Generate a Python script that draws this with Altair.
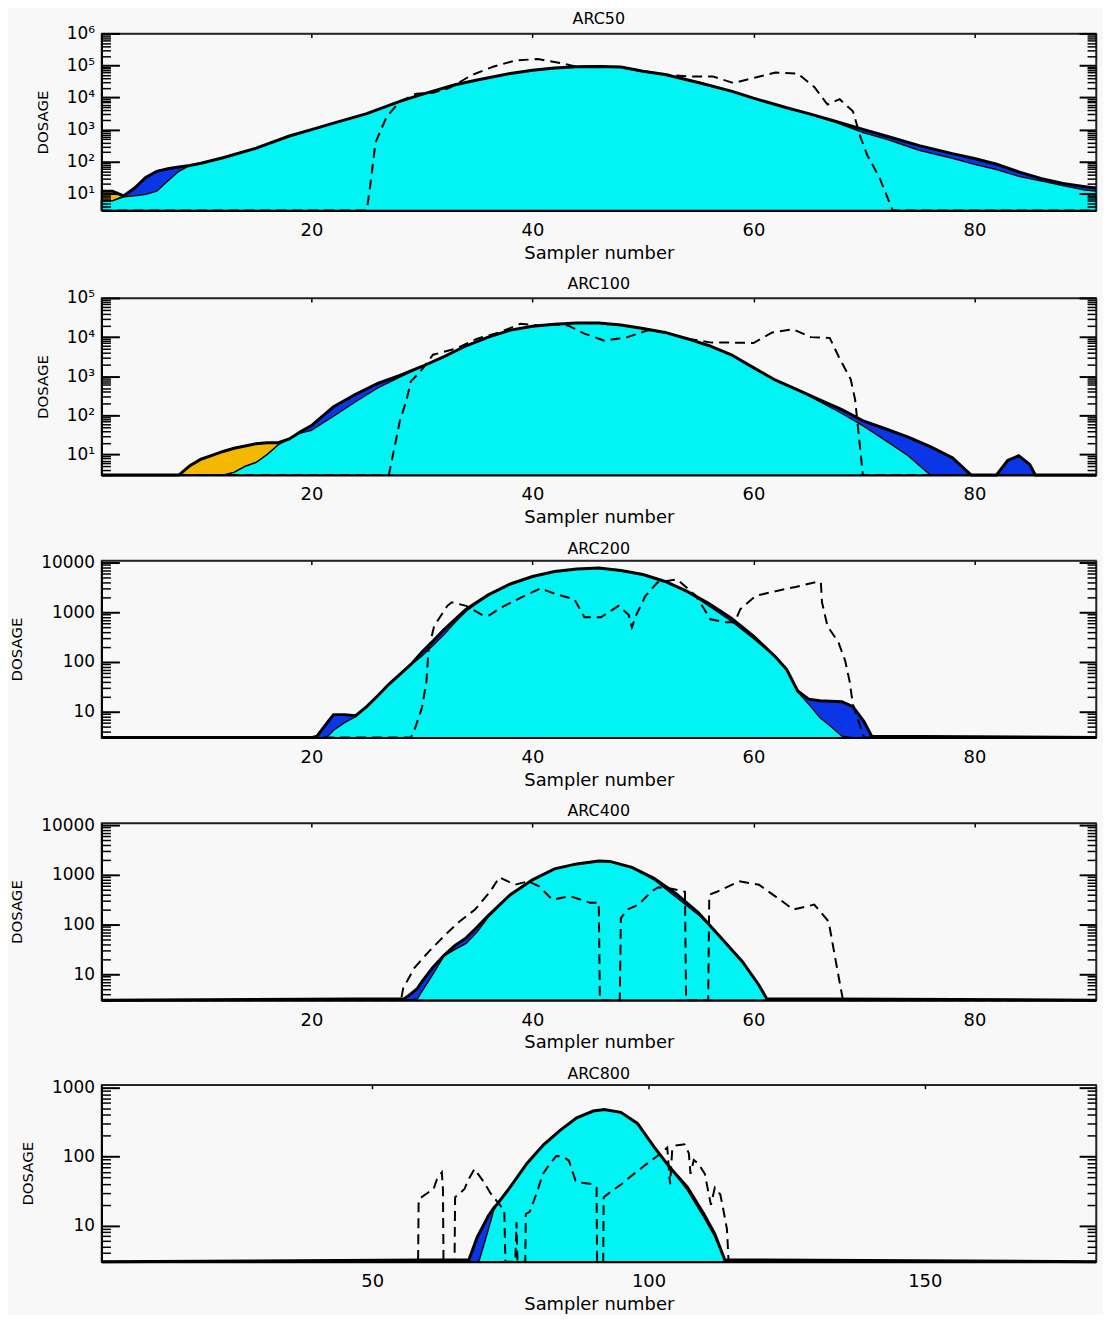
import altair as alt
import pandas as pd

FONT = "DejaVu Sans"
FLOOR = 3.0
BG = "#f8f8f8"
CYAN = "#00f4f4"
BLUE = "#0b36e8"
ORANGE = "#f5b800"

TITLES = ["ARC50", "ARC100", "ARC200", "ARC400", "ARC800"]
Y_MAX = [1.0e6, 1.0e5, 1.1e4, 1.1e4, 1.1e3]
X_MAX = [91, 91, 91, 91, 181]
Y_MAJOR = [
    [10, 100, 1000, 10000, 100000, 1000000],
    [10, 100, 1000, 10000, 100000],
    [10, 100, 1000, 10000],
    [10, 100, 1000, 10000],
    [10, 100, 1000],
]
X_TICKS = [[20, 40, 60, 80]] * 4 + [[50, 100, 150]]
SUPERSCRIPT = [True, True, False, False, False]

# ---------------- ARC50 ----------------
N1 = [1, 2, 3, 4, 5, 6, 7, 8, 9, 10, 12, 15, 18, 20, 22, 25, 28, 30, 33, 35, 38, 40, 42, 44, 46,
      48, 50, 52, 55, 58, 60, 63, 65, 67, 70, 72, 75, 78, 80, 82, 84, 86, 88, 90, 91]
ORANGE1 = [12, 12, 8.5] + [0] * 42
BLUE1 = [6, 6, 8.5, 15, 32, 50, 60, 68, 76, 89, 132, 263, 631, 1000, 1585, 3162, 7586, 12590, 25120,
         35480, 56230, 70790, 83180, 91200, 93330, 89130, 66070, 52480, 29510, 15850, 9550, 4786,
         3162, 1995, 1000, 631, 316, 178, 126, 83, 48, 30, 21, 16.6, 15]
CYAN1 = [6, 6, 8, 8.5, 9.5, 12, 25, 50, 76, 89, 132, 263, 631, 1000, 1585, 3162, 7586, 12590, 25120,
         35480, 56230, 70790, 83180, 91200, 93330, 89130, 66070, 52480, 29510, 15850, 9550, 4786,
         3162, 1900, 794, 501, 224, 126, 83, 56, 35, 25, 18, 13, 12]
OBS1_N = [1, 25, 25.3, 25.8, 26.8, 28, 29.5, 31, 32.5, 34.5, 36.5, 38.5, 40.5, 42.5, 44, 46, 48, 50,
          52, 54, 56.3, 58.2, 60.1, 62, 64, 65.5, 66.7, 67.8, 69, 69.7, 70.3, 71.4, 72.6, 91]
OBS1 = [0, 0, 16, 400, 2512, 7586, 13180, 14130, 19950, 50120, 93330, 144500, 158500, 120200, 91200,
        93330, 89130, 66070, 52480, 45710, 45710, 28180, 41690, 60260, 56230, 21380, 6026, 8913,
        3715, 562, 158, 32, 0, 0]

# ---------------- ARC100 ----------------
N2 = [1, 8, 9, 10, 11, 12, 13, 14, 15, 16, 17, 18, 19, 20, 21, 22, 24, 26, 28, 30, 32, 34, 36, 38,
      40, 42, 44, 46, 48, 50, 52, 54, 56, 58, 60, 62, 64, 66, 68, 70, 72, 74, 76, 78, 79.7, 82, 83,
      84, 85, 85.5, 91]
ORANGE2 = [0, 0, 5.2, 7.6, 9.5, 12, 14.5, 16.5, 19, 20, 20, 15] + [0] * 39
BLUE2 = [0, 0, 0, 0, 0, 0, 3.5, 5, 6.3, 10, 17.8, 25, 38, 55, 95.5, 166, 347, 661, 1047, 1778, 3162,
         6026, 10000, 15140, 19050, 21380, 22910, 22910, 20420, 16600, 13180, 9120, 6026, 3548,
         1660, 794, 447, 251, 141, 71, 45, 28, 16, 8.3, 0, 0, 7.1, 9.3, 5.6, 0, 0]
CYAN2 = [0, 0, 0, 0, 0, 0, 3.5, 5, 6.3, 10, 17.8, 25, 35.5, 41.7, 63, 95.5, 224, 501, 955, 1778, 3162,
         6026, 10000, 15140, 19050, 21380, 22910, 22910, 20420, 16600, 13180, 9120, 6026, 3548,
         1660, 794, 447, 224, 112, 52.5, 22.4, 9.3, 0, 0, 0, 0, 0, 0, 0, 0, 0]
OBS2_N = [1, 27, 27.5, 28, 28.6, 29, 29.8, 31, 33, 35, 37.2, 38.9, 40.5, 42, 43.2, 44.7, 46.5, 48.6,
          50.5, 52, 54, 56.2, 58.2, 60, 61.7, 63.6, 65.2, 66.9, 67.8, 68.8, 69.2, 69.6, 69.9, 91]
OBS2 = [0, 0, 14.5, 72, 245, 741, 1259, 3548, 5012, 9120, 13800, 21880, 19950, 21380, 19950, 12300,
        8128, 10000, 15140, 13180, 9120, 7244, 7244, 7079, 13180, 15850, 10000, 9550, 2818, 832,
        251, 20, 0, 0]

# ---------------- ARC200 ----------------
N3 = [1, 20, 20.5, 21, 21.5, 22, 23, 24, 25, 26, 27, 28, 29, 30, 31, 32, 33, 34, 36, 38, 40, 42, 44,
      46, 48, 50, 52, 54, 56, 58, 60, 62, 63, 64, 65, 66, 67, 68, 69, 70, 70.7, 91]
BLUE3 = [0, 0, 3.2, 4.5, 6.3, 8.7, 8.7, 8.3, 12.6, 20.9, 35.5, 56, 89, 158, 263, 447, 724, 1148,
         2239, 3715, 5248, 6607, 7413, 7762, 6918, 5754, 4169, 2630, 1479, 759, 331, 126, 71, 26,
         17.8, 16.6, 16.2, 15.8, 12.6, 6.3, 3.2, 0]
CYAN3 = [0, 0, 0, 0, 3.2, 4.2, 6, 7.9, 12.6, 20.9, 35.5, 56, 87, 132, 214, 355, 631, 1047, 2239,
         3715, 5248, 6607, 7413, 7762, 6918, 5754, 4169, 2630, 1318, 661, 295, 126, 71, 25, 14.1,
         7.6, 5, 3.2, 0, 0, 0, 0]
OBS3_N = [1, 29, 29.4, 30, 30.4, 30.6, 31.1, 32.3, 32.7, 34, 35.5, 36.1, 37.2, 39, 40.7, 42.2, 43.8,
          44.7, 46.2, 47.8, 48.7, 49, 49.4, 50.2, 51.3, 53.1, 54.8, 56.1, 57.5, 58.3, 58.8, 60.2,
          62.1, 63.8, 65.5, 66.1, 66.2, 66.7, 67.7, 68.3, 68.7, 69, 69.7, 70, 91]
OBS3 = [0, 0, 4.8, 12, 39.8, 178, 525, 1349, 1585, 1349, 871, 871, 1259, 1995, 3020, 2291, 1820,
        794, 794, 1349, 891, 501, 891, 2089, 3981, 4571, 2138, 724, 631, 631, 1148, 2138, 2692,
        3236, 3981, 3981, 1585, 525, 245, 105, 40.7, 13.8, 4.8, 0, 0]

# ---------------- ARC400 ----------------
N4 = [1, 28.4, 29, 29.6, 30, 31, 32, 33, 34, 35, 36, 38, 40, 42, 44, 46, 47, 49, 51, 53, 55, 57, 59,
      60.5, 61.2, 91]
BLUE4 = [0, 3.2, 4, 5.2, 7.1, 13.8, 24, 38, 53.7, 89, 151, 398, 794, 1318, 1660, 1905, 1862, 1413,
         851, 417, 174, 56, 17.8, 6, 3.2, 0]
CYAN4 = [0, 0, 0, 3.2, 4.5, 10, 23.4, 31.6, 41.7, 70.8, 141, 398, 794, 1318, 1660, 1905, 1862, 1413,
         794, 355, 158, 56, 17.8, 6, 3.2, 0]
OBS4_N = [1, 28.1, 28.3, 28.8, 29.3, 30.6, 32.1, 33.4, 34.8, 36.2, 37, 38.4, 39.6, 40.6, 41.8, 43.4,
          45.2, 46, 46.1, 47.9, 48, 48.6, 49.6, 50.8, 51.4, 52.6, 53.8, 53.9, 55.9, 56, 56.8, 58.7,
          60.5, 62.4, 63.6, 65.5, 66.8, 67.4, 67.9, 68.1, 91]
OBS4 = [0, 0, 5.2, 8.3, 13.2, 28.2, 61.7, 115, 200, 468, 891, 631, 741, 589, 316, 372, 275, 275, 0,
        0, 135, 200, 251, 468, 562, 525, 457, 0, 0, 398, 468, 741, 631, 316, 200, 251, 115, 20.9,
        5.2, 0, 0]

# ---------------- ARC800 ----------------
N5 = [1, 67.5, 69, 69.4, 70.5, 71, 72, 72.6, 75, 78, 81, 84, 87, 90, 92, 95, 98, 101, 104, 107, 110,
      112, 113.8, 181]
BLUE5 = [0, 3.2, 6.8, 7.8, 11.5, 13.8, 18, 20.4, 36.3, 79.4, 148, 240, 363, 457, 479, 437, 302, 138,
         67.6, 36.3, 14.8, 7.6, 3.2, 0]
CYAN5 = [0, 0, 0, 3.2, 6.3, 8.7, 16.6, 20.4, 36.3, 79.4, 148, 240, 363, 457, 479, 437, 302, 138,
         67.6, 33, 13.2, 6.9, 3.2, 0]
OBS5_N = [1, 58.3, 58.4, 59.6, 61.1, 61.7, 62.6, 62.8, 62.9, 64.9, 65, 66.7, 67.3, 68.5, 70.3, 71.4,
          73.9, 74.1, 75.9, 76.1, 76.3, 77.7, 77.8, 78.5, 79.7, 80.9, 82.1, 83.3, 84.5, 85.6, 86.8,
          88, 89.8, 90.6, 90.7, 91.8, 91.9, 93.3, 95.1, 96.9, 99.3, 101.6, 103.4, 103.9, 104.3, 105,
          106.5, 107.3, 107.6, 108.2, 109, 110.2, 110.8, 111.3, 112, 113, 113.5, 114.2, 114.5, 181]
OBS5 = [0, 0, 24, 28.2, 33.9, 46.8, 58.9, 33.9, 0, 0, 25.7, 33.9, 44.7, 66.1, 41.7, 29.5, 16.6, 0, 0,
        11.2, 0, 0, 14.8, 15.8, 28.8, 56.2, 77.6, 102, 100, 87.1, 44.7, 41.7, 39.8, 35.5, 0, 0, 25.7,
        31.6, 39.8, 52.5, 74.1, 102, 135, 39.8, 126, 145, 151, 112, 56.2, 89.1, 79.4, 56.2, 31.6,
        20, 35.5, 28.2, 17.8, 8.9, 0, 0]

PANELS = [
    (N1, ORANGE1, BLUE1, CYAN1, OBS1_N, OBS1),
    (N2, ORANGE2, BLUE2, CYAN2, OBS2_N, OBS2),
    (N3, None, BLUE3, CYAN3, OBS3_N, OBS3),
    (N4, None, BLUE4, CYAN4, OBS4_N, OBS4),
    (N5, None, BLUE5, CYAN5, OBS5_N, OBS5),
]

W, H = 1000, 178


def minor_ticks(ymax, majors):
    out = []
    for d in range(0, 7):
        for k in range(1, 10):
            v = k * 10 ** d
            if FLOOR <= v <= ymax and v not in majors:
                out.append(v)
    return out


def inner_ticks(orient, offset, values, size, width, domain=False):
    # an axis placed on the opposite edge so that its ticks point into the plot
    return alt.Axis(orient=orient, offset=offset, values=values, labels=False, domain=domain,
                    domainColor="#222222", domainWidth=1.5, ticks=True, tickSize=size,
                    tickColor="black", tickWidth=width, title=None, grid=False, zindex=1)


def make_panel(i):
    n, orange, blue, cyan, obs_n, obs_v = PANELS[i]
    if orange is None:
        orange = [0] * len(n)
    df = pd.DataFrame({"n": n, "orange": orange, "blue": blue, "cyan": cyan})
    for c in ["orange", "blue", "cyan"]:
        df[c] = df[c].clip(lower=FLOOR)
    df["top"] = df[["orange", "blue", "cyan"]].max(axis=1)
    obs = pd.DataFrame({"n": obs_n, "v": obs_v})
    obs["v"] = obs["v"].clip(lower=FLOOR)

    xs = alt.Scale(domain=[1, X_MAX[i]], nice=False, zero=False)
    ys = alt.Scale(type="log", domain=[FLOOR, Y_MAX[i]], nice=False)
    majors = Y_MAJOR[i]
    minors = minor_ticks(Y_MAX[i], majors)

    if SUPERSCRIPT[i]:
        lab = "'10' + ['\u2070','\u00b9','\u00b2','\u00b3','\u2074','\u2075','\u2076'][round(log(datum.value)/LN10)]"
    else:
        lab = "format(datum.value, 'd')"

    y_main = alt.Axis(orient="left", values=majors, labelExpr=lab, ticks=False, domain=True,
                      domainColor="black", domainWidth=2, labelFont=FONT, labelFontSize=17,
                      labelColor="black", labelPadding=7, labelOverlap=False,
                      title="DOSAGE", titleFont=FONT, titleFontSize=15, titleFontWeight="normal",
                      titleColor="black", titlePadding=16, grid=False, zindex=1)
    x_main = alt.Axis(orient="bottom", values=X_TICKS[i], ticks=False, domain=True,
                      domainColor="black", domainWidth=2, labelFont=FONT, labelFontSize=18,
                      labelColor="black", labelPadding=11, labelFlush=False,
                      title="Sampler number", titleFont=FONT, titleFontSize=18,
                      titleFontWeight="normal", titleColor="black", titlePadding=5,
                      grid=False, zindex=1)
    x_top = inner_ticks("bottom", -H, X_TICKS[i], 4, 1.5, domain=True)

    base = alt.Chart(df)
    o = base.mark_area(color=ORANGE, stroke="black", strokeWidth=1.3).encode(
        x=alt.X("n:Q", scale=xs, axis=x_main),
        y=alt.Y("orange:Q", scale=ys, axis=y_main),
        y2=alt.datum(FLOOR))
    b = base.mark_area(color=BLUE, stroke="black", strokeWidth=1.3).encode(
        x=alt.X("n:Q", scale=xs, axis=x_top),
        y=alt.Y("blue:Q", scale=ys, axis=inner_ticks("right", -W, majors, 18, 2)),
        y2=alt.datum(FLOOR))
    c = base.mark_area(color=CYAN, stroke="black", strokeWidth=1.3).encode(
        x=alt.X("n:Q", scale=xs, axis=None),
        y=alt.Y("cyan:Q", scale=ys, axis=inner_ticks("right", -W, minors, 9, 1.5)),
        y2=alt.datum(FLOOR))
    t = base.mark_line(color="black", strokeWidth=3).encode(
        x=alt.X("n:Q", scale=xs, axis=None),
        y=alt.Y("top:Q", scale=ys, axis=inner_ticks("left", -W, majors, 17, 2, domain=True)))
    d = alt.Chart(obs).mark_line(color="black", strokeWidth=2, strokeDash=[10, 6]).encode(
        x=alt.X("n:Q", scale=xs, axis=None),
        y=alt.Y("v:Q", scale=ys, axis=inner_ticks("left", -W, minors, 9, 1.5)))

    return alt.layer(o, b, c, t, d).resolve_axis(x="independent", y="independent").properties(
        width=W, height=H,
        title=alt.TitleParams(TITLES[i], font=FONT, fontSize=16, fontWeight="normal",
                              color="black", offset=-3, anchor="middle"))


chart = alt.vconcat(*[make_panel(i) for i in range(5)], spacing=12).configure(
    background=BG, padding={"left": 1, "top": -1, "right": 0, "bottom": -3}
).configure_view(stroke="#333333", strokeWidth=1.5)

chart.save("out.html", embed_options={"renderer": "svg", "actions": False})
